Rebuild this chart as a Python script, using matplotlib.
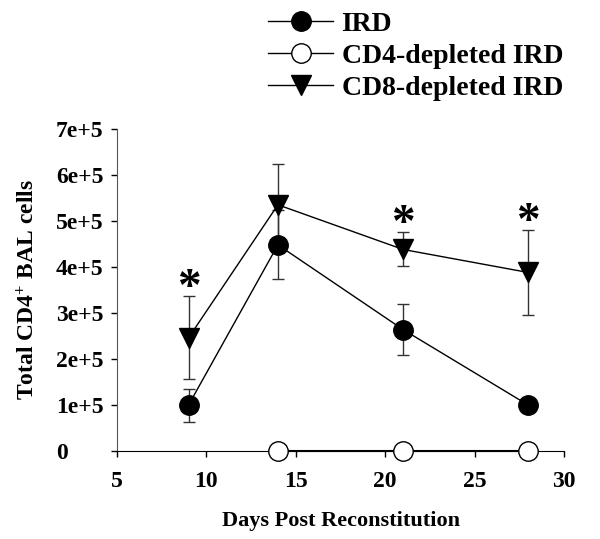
import matplotlib.pyplot as plt
from matplotlib.lines import Line2D

plt.rcParams['font.family'] = ['Liberation Serif', 'DejaVu Serif']
plt.rcParams['font.weight'] = 'bold'
plt.rcParams['mathtext.fontset'] = 'custom'
plt.rcParams['mathtext.bf'] = 'Liberation Serif:bold'
plt.rcParams['mathtext.rm'] = 'Liberation Serif:bold'
plt.rcParams['mathtext.default'] = 'bf'

# days post reconstitution
ird_days = [9, 14, 21, 28]
ird_vals = [1.0e5, 4.48e5, 2.64e5, 1.0e5]
ird_err = [0.36e5, 0.75e5, 0.55e5, 0.0]

cd4_days = [14, 21, 28]
cd4_vals = [0.0, 0.0, 0.0]

cd8_days = [9, 14, 21, 28]
cd8_vals = [2.46e5, 5.35e5, 4.38e5, 3.88e5]
cd8_err = [0.9e5, 0.88e5, 0.37e5, 0.92e5]

# significance stars (CD8-depleted vs IRD)
star_days = [9, 21, 28]

fig = plt.figure(figsize=(6.0, 5.39), dpi=100)
ax = fig.add_axes([0.195, 0.163, 0.745, 0.598])

ms = 14
ax.errorbar(ird_days, ird_vals, yerr=ird_err, fmt='none', ecolor='#333333',
            elinewidth=1, capsize=4, capthick=1, zorder=2, clip_on=False)
ax.errorbar(cd8_days, cd8_vals, yerr=cd8_err, fmt='none', ecolor='#333333',
            elinewidth=1, capsize=4, capthick=1, zorder=2, clip_on=False)

ax.plot(ird_days, ird_vals, color='black', lw=1, marker='o', ms=ms,
        mfc='black', mec='black', zorder=3, clip_on=False)
ax.plot(cd4_days, cd4_vals, color='black', lw=1.5, marker='o', ms=ms,
        mfc='white', mec='black', mew=1, zorder=4, clip_on=False)
ax.plot(cd8_days, cd8_vals, color='black', lw=1, marker='v', ms=ms + 1,
        mfc='black', mec='black', zorder=3, clip_on=False)

for d in star_days:
    i = cd8_days.index(d)
    ax.annotate('*', (d, cd8_vals[i] + cd8_err[i]), xytext=(0, -10),
                textcoords='offset points', ha='center', va='bottom',
                fontsize=34, fontweight='bold')

ax.set_xlim(5, 30)
ax.set_ylim(0, 7e5)
ax.set_xticks([5, 10, 15, 20, 25, 30])
ax.set_yticks([i * 1e5 for i in range(8)])
ax.set_yticklabels(['0'] + ['%de+5' % i for i in range(1, 8)])

for s in ['top', 'right']:
    ax.spines[s].set_visible(False)
ax.spines['left'].set_color('#555555')
ax.tick_params(direction='out', length=4, width=1, labelsize=17)
ax.tick_params(axis='x', pad=10)
ax.tick_params(axis='y', pad=40)
for lab in ax.get_yticklabels():
    lab.set_horizontalalignment('left')
for lab in ax.get_xticklabels() + ax.get_yticklabels():
    lab.set_fontweight('bold')

ax.set_xlabel('Days Post Reconstitution', fontsize=16, fontweight='bold', labelpad=14)
ax.set_ylabel('Total CD4$^{+}$ BAL cells', fontsize=17, fontweight='bold', labelpad=12)

handles = [
    Line2D([], [], color='black', lw=1, marker='o', ms=ms, mfc='black', mec='black'),
    Line2D([], [], color='black', lw=1, marker='o', ms=ms, mfc='white', mec='black'),
    Line2D([], [], color='black', lw=1, marker='v', ms=ms + 1, mfc='black', mec='black'),
]
fig.legend(handles, ['IRD', 'CD4-depleted IRD', 'CD8-depleted IRD'],
           loc='upper left', bbox_to_anchor=(0.442, 0.984), frameon=False,
           prop={'family': 'Liberation Serif', 'weight': 'bold', 'size': 20},
           handlelength=2.35, handletextpad=0.3, labelspacing=0.24,
           borderpad=0.1, borderaxespad=0)

fig.savefig('out.png', dpi=100)
